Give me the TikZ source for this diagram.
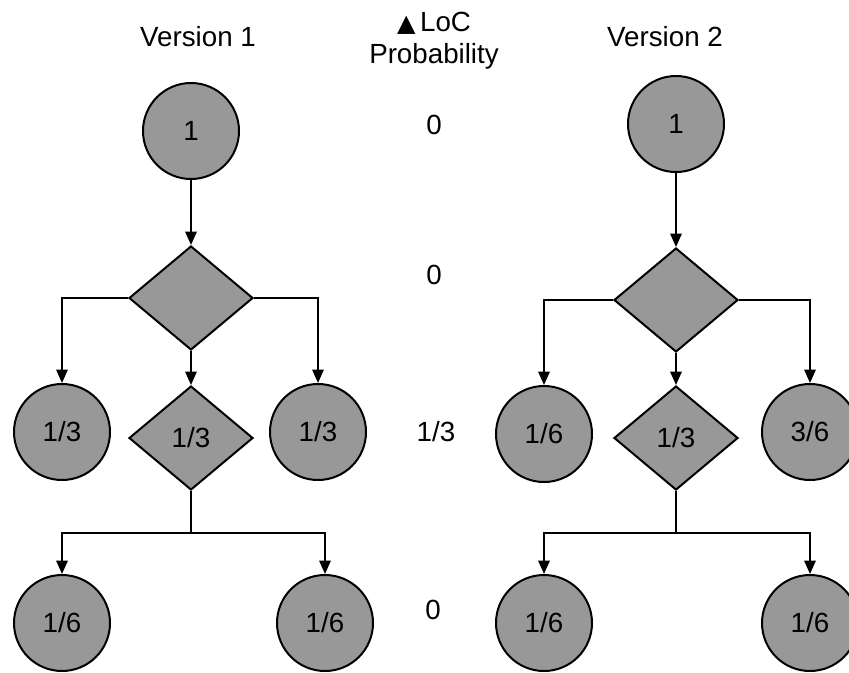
\documentclass[tikz,border=0pt]{standalone}
\usepackage{fontspec}
\setmainfont{Liberation Sans}
\newfontfamily\symfont{DejaVu Sans}
\usetikzlibrary{shapes.geometric,arrows.meta}
\definecolor{shade}{RGB}{152,152,152}
\tikzset{
  every node/.style={font=\fontsize{20.8}{24}\selectfont},
  state/.style={circle,draw,line width=1.5pt,fill=shade,minimum size=72pt,inner sep=0pt},
  choice/.style={diamond,draw,line width=1.5pt,fill=shade,minimum width=93pt,minimum height=78pt,inner sep=0pt},
  link/.style={line width=1.5pt,-{Triangle[length=10pt,width=8.5pt]}},
  plain/.style={line width=1.5pt},
  label/.style={align=center,inner sep=0pt}
}
\begin{document}
\begin{tikzpicture}[x=0.75pt,y=-0.75pt]
\useasboundingbox (0,0) rectangle (849,672);

% headings
\node[label] (h1) at (198,37) {Version 1};
\node[label] (h2) at (665,37) {Version 2};
\node[label] (hm) at (434,41) {{\symfont\fontsize{18}{18}\selectfont ▲}\,LoC\\[0pt]Probability};

% probability column
\node[label] (p0) at (434,125) {0};
\node[label] (p1) at (434,275) {0};
\node[label] (p2) at (436,432) {1/3};
\node[label] (p3) at (433,610) {0};

% version 1
\node[state]  (a0) at (191,131) {1};
\node[choice] (a1) at (191,298) {};
\node[state]  (a2) at (62,432)  {1/3};
\node[choice] (a3) at (191,438) {1/3};
\node[state]  (a4) at (318,432) {1/3};
\node[state]  (a5) at (62,623)  {1/6};
\node[state]  (a6) at (325,623) {1/6};
\coordinate (as) at (191,533);

\draw[link] (a0) -- (a1);
\draw[link] (a1.west) -| (a2);
\draw[link] (a1.east) -| (a4);
\draw[link] (a1.south) -- (a3);
\draw[plain] (a3.south) -- (as);
\draw[link] (as) -| (a5);
\draw[link] (as) -| (a6);

% version 2
\node[state]  (b0) at (676,124) {1};
\node[choice] (b1) at (676,300) {};
\node[state]  (b2) at (544,434) {1/6};
\node[choice] (b3) at (676,438) {1/3};
\node[state]  (b4) at (810,432) {3/6};
\node[state]  (b5) at (544,623) {1/6};
\node[state]  (b6) at (810,623) {1/6};
\coordinate (bs) at (676,533);

\draw[link] (b0) -- (b1);
\draw[link] (b1.west) -| (b2);
\draw[link] (b1.east) -| (b4);
\draw[link] (b1.south) -- (b3);
\draw[plain] (b3.south) -- (bs);
\draw[link] (bs) -| (b5);
\draw[link] (bs) -| (b6);
\end{tikzpicture}
\end{document}
